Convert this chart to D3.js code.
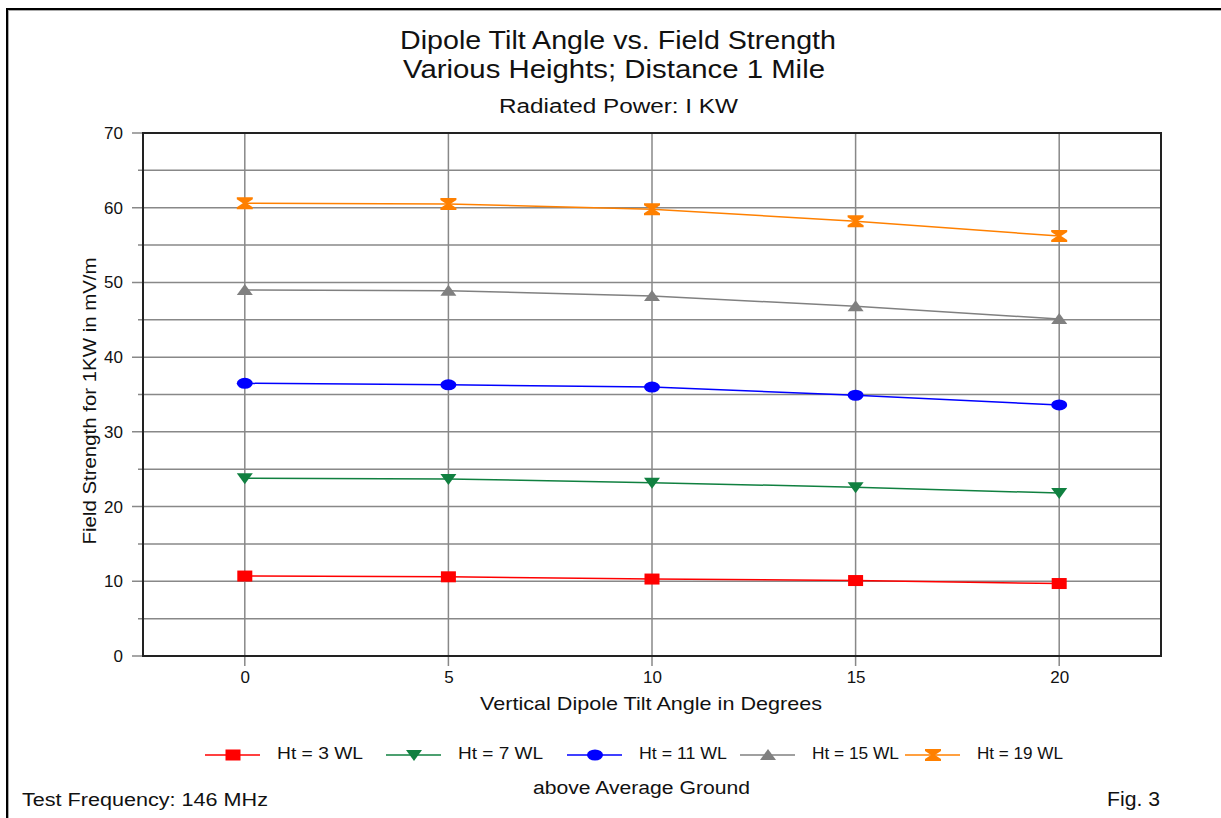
<!DOCTYPE html>
<html>
<head>
<meta charset="utf-8">
<script src="https://cdn.jsdelivr.net/npm/d3@7"></script>
<style>
  body { margin: 0; background: #fff; }
  svg { display: block; font-family: "Liberation Sans", Arial, sans-serif; }
</style>
</head>
<body>
<div id="chart"></div>
<script>
// chart data
const tiltAngles = [0, 5, 10, 15, 20];
const seriesNames = ["Ht = 3 WL", "Ht = 7 WL", "Ht = 11 WL", "Ht = 15 WL", "Ht = 19 WL"];
const ht3 = [10.7, 10.6, 10.3, 10.1, 9.7];
const ht7 = [23.8, 23.7, 23.2, 22.6, 21.8];
const ht11 = [36.5, 36.3, 36.0, 34.9, 33.6];
const ht15 = [49.0, 48.9, 48.2, 46.8, 45.1];
const ht19 = [60.6, 60.5, 59.8, 58.2, 56.2];
const yTicks = [0, 10, 20, 30, 40, 50, 60, 70];
const seriesColors = ["#ff0000", "#108040", "#0000ff", "#808080", "#ff8000"];
const seriesMarkers = ["square", "triDown", "circle", "triUp", "hourglass"];

const width = 1221, height = 818;
const plotLeft = 143, plotRight = 1161, plotTop = 133, plotBottom = 656;
const font = "'Liberation Sans', Arial, sans-serif";

let svg = d3.select("#chart").append("svg")
  .attr("width", width)
  .attr("height", height);

// window frame
svg.append("rect").attr("x", 0).attr("y", 0).attr("width", width).attr("height", height).attr("fill", "#fff");
svg.append("line").attr("x1", 6).attr("x2", width).attr("y1", 9).attr("y2", 9).attr("stroke", "#000").attr("stroke-width", 2);
svg.append("line").attr("x1", 7).attr("x2", 7).attr("y1", 8).attr("y2", height).attr("stroke", "#000").attr("stroke-width", 2);
svg.append("line").attr("x1", 8).attr("x2", width).attr("y1", 10.5).attr("y2", 10.5).attr("stroke", "#aaa").attr("stroke-width", 1);
svg.append("line").attr("x1", 8.5).attr("x2", 8.5).attr("y1", 10).attr("y2", height).attr("stroke", "#aaa").attr("stroke-width", 1);

let x = d3.scaleLinear().domain([-2.5, 22.5]).range([plotLeft, plotRight]);
let y = d3.scaleLinear().domain([0, 70]).range([plotBottom, plotTop]);

let grid = svg.append("g").attr("class", "grid");

// horizontal gridlines every 5 units
d3.range(0, 71, 5).forEach(v => {
  let major = v % 10 === 0;
  grid.append("line")
    .attr("x1", major ? plotLeft - 11 : plotLeft - 5).attr("x2", plotRight)
    .attr("y1", y(v)).attr("y2", y(v))
    .attr("stroke", "#888").attr("stroke-width", 1.5);
});

// vertical gridlines at the data angles
tiltAngles.forEach(v => {
  grid.append("line")
    .attr("x1", x(v)).attr("x2", x(v))
    .attr("y1", plotTop).attr("y2", plotBottom + 10)
    .attr("stroke", "#888").attr("stroke-width", 1.5);
});

// plot frame
svg.append("rect")
  .attr("x", plotLeft).attr("y", plotTop)
  .attr("width", plotRight - plotLeft).attr("height", plotBottom - plotTop)
  .attr("fill", "none").attr("stroke", "#222").attr("stroke-width", 2);

// tick labels
let yAxis = d3.axisLeft(y).tickValues(yTicks).tickSize(0).tickPadding(20);
svg.append("g").attr("transform", `translate(${plotLeft},0)`).call(yAxis)
  .call(g => g.select(".domain").remove())
  .selectAll("text").attr("font-size", 17).attr("fill", "#111")
  .attr("font-family", font);

let xAxis = d3.axisBottom(x).tickValues(tiltAngles).tickSize(0).tickPadding(15);
svg.append("g").attr("transform", `translate(0,${plotBottom})`).call(xAxis)
  .call(g => g.select(".domain").remove())
  .selectAll("text").attr("font-size", 17).attr("fill", "#111")
  .attr("font-family", font);

// marker drawing
function drawMarker(g, type, cx, cy, color) {
  if (type === "square") {
    g.append("rect").attr("x", cx - 7.5).attr("y", cy - 5.5).attr("width", 15).attr("height", 11).attr("fill", color);
  } else if (type === "circle") {
    g.append("ellipse").attr("cx", cx).attr("cy", cy).attr("rx", 8).attr("ry", 5.5).attr("fill", color);
  } else if (type === "triDown") {
    g.append("path").attr("d", `M${cx - 8},${cy - 5}L${cx + 8},${cy - 5}L${cx},${cy + 6}Z`).attr("fill", color);
  } else if (type === "triUp") {
    g.append("path").attr("d", `M${cx - 8},${cy + 5}L${cx + 8},${cy + 5}L${cx},${cy - 6}Z`).attr("fill", color);
  } else if (type === "hourglass") {
    g.append("path")
      .attr("d", `M${cx - 8},${cy - 6}L${cx + 8},${cy - 6}L${cx + 8},${cy - 4}L${cx + 2},${cy}L${cx + 8},${cy + 4}L${cx + 8},${cy + 6}L${cx - 8},${cy + 6}L${cx - 8},${cy + 4}L${cx - 2},${cy}L${cx - 8},${cy - 4}Z`)
      .attr("fill", color);
  }
}

let allSeries = [ht3, ht7, ht11, ht15, ht19];
let line = d3.line().x((d, i) => x(tiltAngles[i])).y(d => y(d));

let plot = svg.append("g").attr("class", "series");
allSeries.forEach((vals, s) => {
  plot.append("path").datum(vals)
    .attr("d", line)
    .attr("fill", "none")
    .attr("stroke", seriesColors[s])
    .attr("stroke-width", 1.5);
  vals.forEach((v, i) => drawMarker(plot, seriesMarkers[s], x(tiltAngles[i]), y(v), seriesColors[s]));
});

// text helper: the original uses a wide bitmap font, so stretch to its width
function label(parent, str, px, py, size, len, anchor) {
  return parent.append("text")
    .attr("x", px).attr("y", py)
    .attr("text-anchor", anchor || "middle")
    .attr("font-size", size).attr("font-family", font).attr("fill", "#111")
    .attr("textLength", len).attr("lengthAdjust", "spacingAndGlyphs")
    .text(str);
}

// titles
label(svg, "Dipole Tilt Angle vs. Field Strength", 618, 49, 26, 436);
label(svg, "Various Heights; Distance 1 Mile", 614, 78, 26, 422);
label(svg, "Radiated Power: I KW", 618.5, 113, 20, 239);

// axis titles
label(svg, "Vertical Dipole Tilt Angle in Degrees", 651, 710, 19, 342);
label(svg.append("g").attr("transform", "translate(96,401) rotate(-90)"),
  "Field Strength for 1KW in mV/m", 0, 0, 19, 287);

// legend
const legendX = [205, 386, 567, 740, 905];
const legendTextW = [86, 85, 88, 87, 86];
let legend = svg.append("g").attr("class", "legend");
seriesNames.forEach((name, s) => {
  let lx = legendX[s];
  legend.append("line").attr("x1", lx).attr("x2", lx + 55).attr("y1", 755).attr("y2", 755)
    .attr("stroke", seriesColors[s]).attr("stroke-width", 1.5);
  drawMarker(legend, seriesMarkers[s], lx + 28, 755, seriesColors[s]);
  label(legend, name, lx + 72, 759, 16, legendTextW[s], "start");
});

// footer texts
label(svg, "above Average Ground", 641.5, 794, 18, 217);
label(svg, "Test Frequency: 146 MHz", 22, 806, 18, 246, "start");
label(svg, "Fig. 3", 1160, 806, 21, 53, "end");
</script>
</body>
</html>
